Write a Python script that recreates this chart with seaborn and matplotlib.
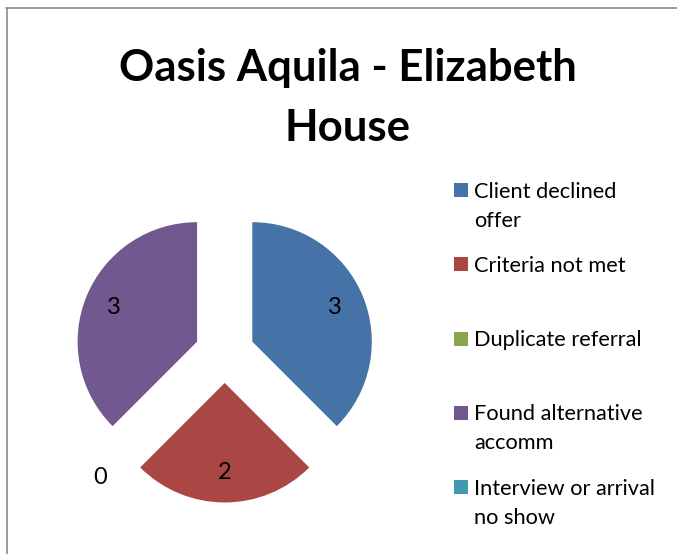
import matplotlib
matplotlib.use("Agg")
import matplotlib.pyplot as plt
from matplotlib.lines import Line2D
from matplotlib.patches import Rectangle
import numpy as np
import seaborn as sns

# Chart data
categories = ["Client declined\noffer", "Criteria not met", "Duplicate referral",
              "Found alternative\naccomm", "Interview or arrival\nno show"]
counts = [3, 2, 0, 3, 0]
# Excel only shows one of the two zero labels
show_label = [True, True, True, True, False]

colors = sns.color_palette(["#4572A7", "#AA4643", "#89A54E", "#71588F", "#4198AF"])

sns.set_theme(style="white")
plt.rcParams["font.family"] = ["Lato", "DejaVu Sans"]

W, H = 677, 554
fig = plt.figure(figsize=(W / 100, H / 100), dpi=100)

# pie axes: centre at (224.7, 353) px, radius ~119.5 px
lim = 1.6
side = 2 * lim * 119.5
cx, cy = 224.7, 353.1
ax = fig.add_axes([(cx - side / 2) / W, (H - cy - side / 2) / H, side / W, side / H])

wedges, _ = ax.pie(counts, explode=[0.25] * len(counts), startangle=90,
                   counterclock=False, colors=colors,
                   wedgeprops={"linewidth": 0})
ax.set_xlim(-lim, lim)
ax.set_ylim(-lim, lim)
ax.set_aspect("equal")
ax.axis("off")

# value labels
for w, val, show in zip(wedges, counts, show_label):
    if not show:
        continue
    mid = np.deg2rad((w.theta1 + w.theta2) / 2)
    dist = 0.75 if val > 0 else 1.22
    x = w.center[0] + dist * w.r * np.cos(mid)
    y = w.center[1] + dist * w.r * np.sin(mid)
    ax.text(x, y, str(val), ha="center", va="center", fontsize=17, color="black")

# title (va=baseline puts the last line on y)
fig.text(347.5 / W, 1 - 141 / H, "Oasis Aquila - Elizabeth\nHouse", ha="center",
         va="baseline", fontsize=31.5, fontweight="bold", linespacing=1.6,
         color="black")

# legend, laid out like Excel (evenly spaced entries)
ys = np.linspace(190, 487, len(categories))
step = 28.7
for lab, col, yc in zip(categories, colors, ys):
    fig.patches.append(Rectangle((454 / W, 1 - (yc + 7) / H), 14 / W, 14 / H,
                                 facecolor=col, edgecolor="none",
                                 transform=fig.transFigure, figure=fig))
    last = yc + 8 + step * lab.count("\n")
    fig.text(474 / W, 1 - last / H, lab, ha="left", va="baseline",
             fontsize=15.7, linespacing=1.56, color="black")

# chart area border (only top and left visible)
fig.add_artist(Line2D([6 / W, 1], [1 - 7.5 / H, 1 - 7.5 / H], color="#8c8c8c",
                      lw=1.2, transform=fig.transFigure))
fig.add_artist(Line2D([6.5 / W, 6.5 / W], [0, 1 - 7.5 / H], color="#8c8c8c",
                      lw=1.2, transform=fig.transFigure))

fig.savefig("out.png", dpi=100, facecolor="white")
